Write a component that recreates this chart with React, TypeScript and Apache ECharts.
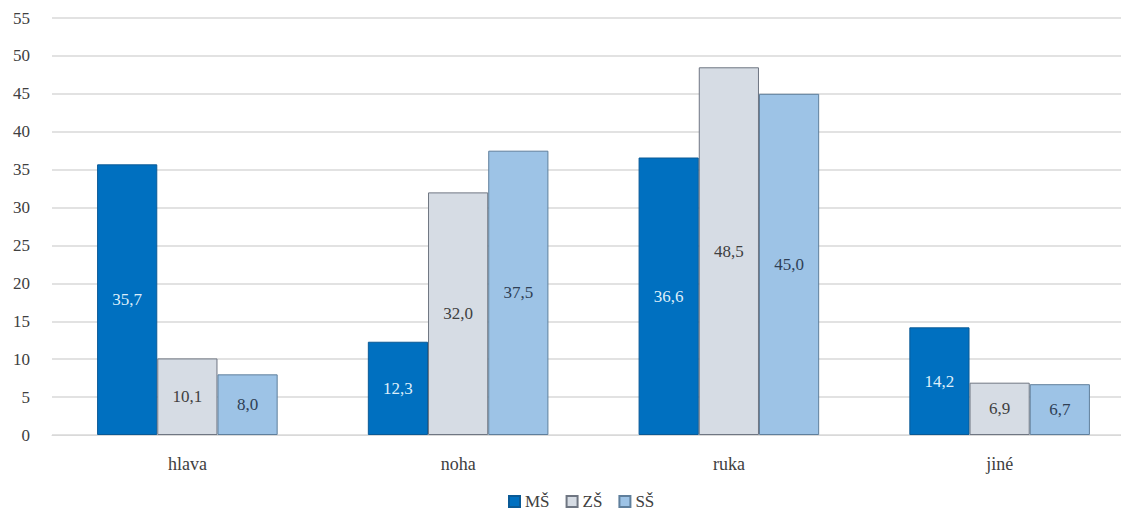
import React, { useEffect, useRef } from "react";
import * as echarts from "echarts";

const categories = ["hlava", "noha", "ruka", "jiné"];
const seriesNames = ["MŠ", "ZŠ", "SŠ"];
const msValues = [35.7, 12.3, 36.6, 14.2];
const zsValues = [10.1, 32.0, 48.5, 6.9];
const ssValues = [8.0, 37.5, 45.0, 6.7];

const FONT = "Times New Roman, Liberation Serif, serif";

export default function App() {
  const ref = useRef<HTMLDivElement>(null);
  useEffect(() => {
    if (!ref.current) return;
    const chart = echarts.init(ref.current, undefined, { renderer: "svg" });
    const fmt = (p: any) => Number(p.value).toFixed(1).replace(".", ",");
    const mk = (name: string, data: number[], color: string, border: string, labelColor: string) => ({
      name,
      type: "bar",
      data,
      barGap: "0%",
      barCategoryGap: "33.3%",
      itemStyle: { color, borderColor: border, borderWidth: 1 },
      label: {
        show: true,
        position: "inside",
        formatter: fmt,
        color: labelColor,
        fontFamily: FONT,
        fontSize: 17,
      },
    });
    chart.setOption({
      animation: false,
      textStyle: { fontFamily: FONT },
      grid: { left: 52, width: 1083, top: 18, bottom: 82, containLabel: false, outerBoundsMode: "none" },
      legend: {
        data: seriesNames,
        bottom: 2,
        left: 503,
        itemWidth: 11,
        itemHeight: 11,
        itemGap: 16,
        textStyle: { fontFamily: FONT, fontSize: 17, color: "#404040" },
        icon: "rect",
      },
      xAxis: {
        type: "category",
        data: categories,
        axisLine: { show: true, lineStyle: { color: "#d9d9d9", width: 1 } },
        axisTick: { show: false },
        axisLabel: { color: "#404040", fontFamily: FONT, fontSize: 18, margin: 20 },
      },
      yAxis: {
        type: "value",
        min: 0,
        max: 55,
        interval: 5,
        axisLine: { show: false },
        axisTick: { show: false },
        axisLabel: { color: "#404040", fontFamily: FONT, fontSize: 17, margin: 22 },
        splitLine: { lineStyle: { color: "#d9d9d9", width: 1.5 } },
      },
      series: [
        mk(seriesNames[0], msValues, "#0070c0", "#0a5a96", "#ddeefa"),
        mk(seriesNames[1], zsValues, "#d6dce4", "#6f7682", "#404040"),
        mk(seriesNames[2], ssValues, "#9dc3e6", "#5f7f9c", "#2f3f55"),
      ],
    });
    return () => chart.dispose();
  }, []);
  return (
    <div
      ref={ref}
      style={{ position: "fixed", left: 0, top: 0, width: 1121, height: 517, background: "#fff" }}
    />
  );
}
